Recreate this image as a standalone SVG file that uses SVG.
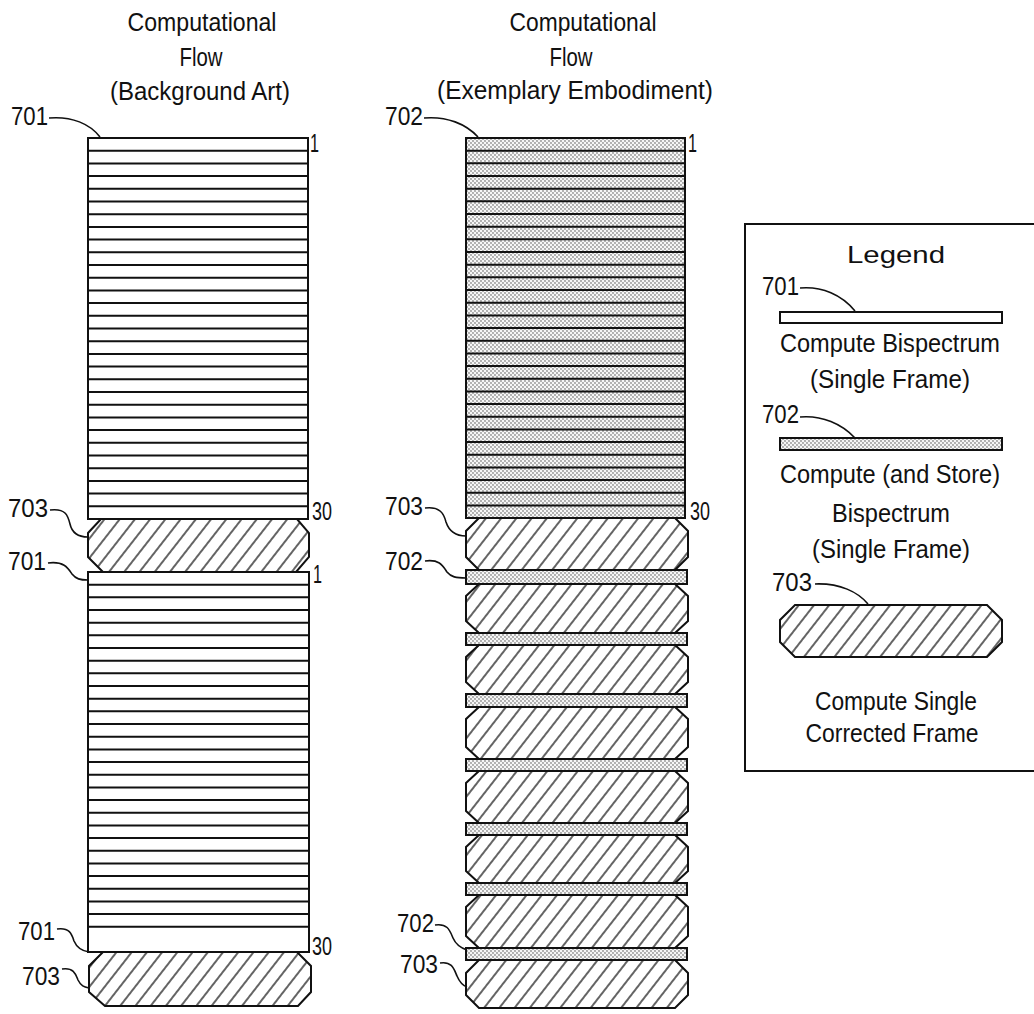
<svg xmlns="http://www.w3.org/2000/svg" width="1034" height="1014" viewBox="0 0 1034 1014">
<style>
text{font-family:"Liberation Sans Narrow","Liberation Sans",Arial,sans-serif;font-size:25px;fill:#111;}
.t{text-anchor:middle;}
.leg{font-family:"Liberation Sans",Arial,sans-serif;font-size:24px;text-anchor:middle;}
.o{fill:none;stroke:#111;stroke-width:2;}
.w{fill:#fff;stroke:#111;stroke-width:2;}
.st{fill:url(#stip);stroke:#111;stroke-width:2;}
.hx{fill:url(#hatch);stroke:#111;stroke-width:2;stroke-linejoin:miter;}
.ld{fill:none;stroke:#111;stroke-width:1.6;}
.rl{fill:none;stroke:#111;stroke-width:2;}
</style>
<defs>
<pattern id="stip" patternUnits="userSpaceOnUse" width="4" height="4">
<rect width="4" height="4" fill="#f6f6f6"/>
<circle cx="1" cy="1" r="0.65" fill="#333"/>
<circle cx="3" cy="3" r="0.65" fill="#333"/>
</pattern>
<pattern id="hatch" patternUnits="userSpaceOnUse" width="12" height="12" patternTransform="rotate(38)">
<rect width="12" height="12" fill="#fff"/>
<line x1="6" y1="-1" x2="6" y2="13" stroke="#111" stroke-width="1.3"/>
</pattern>
</defs>
<rect width="1034" height="1014" fill="#fff"/>

<g id="titles">
<text class="t" x="202" y="31" textLength="149" lengthAdjust="spacingAndGlyphs">Computational</text>
<text class="t" x="201" y="66" textLength="43" lengthAdjust="spacingAndGlyphs">Flow</text>
<text class="t" x="200" y="100" textLength="180" lengthAdjust="spacingAndGlyphs">(Background Art)</text>
<text class="t" x="583" y="31" textLength="147" lengthAdjust="spacingAndGlyphs">Computational</text>
<text class="t" x="571" y="66" textLength="43" lengthAdjust="spacingAndGlyphs">Flow</text>
<text class="t" x="575" y="99" textLength="276" lengthAdjust="spacingAndGlyphs">(Exemplary Embodiment)</text>
</g>

<g id="left-stack-1">
<rect class="w" x="88" y="138" width="220" height="381"/>
<path class="rl" d="M88,150.7h220m-220,12.7h220m-220,12.7h220m-220,12.7h220m-220,12.7h220m-220,12.7h220m-220,12.7h220m-220,12.7h220m-220,12.7h220m-220,12.7h220m-220,12.7h220m-220,12.7h220m-220,12.7h220m-220,12.7h220m-220,12.7h220m-220,12.7h220m-220,12.7h220m-220,12.7h220m-220,12.7h220m-220,12.7h220m-220,12.7h220m-220,12.7h220m-220,12.7h220m-220,12.7h220m-220,12.7h220m-220,12.7h220m-220,12.7h220m-220,12.7h220m-220,12.7h220"/>
</g>
<g id="left-703-a">
<polygon class="hx" points="101,519 297,519 309,533 309,557 296,572 103,572 88,557 88,533"/>
</g>
<g id="left-stack-2">
<rect class="w" x="88" y="572" width="221" height="380"/>
<path class="rl" d="M88,584.67h221m-221,12.67h221m-221,12.67h221m-221,12.67h221m-221,12.67h221m-221,12.67h221m-221,12.67h221m-221,12.67h221m-221,12.67h221m-221,12.67h221m-221,12.67h221m-221,12.67h221m-221,12.67h221m-221,12.67h221m-221,12.67h221m-221,12.67h221m-221,12.67h221m-221,12.67h221m-221,12.67h221m-221,12.67h221m-221,12.67h221m-221,12.67h221m-221,12.67h221m-221,12.67h221m-221,12.67h221m-221,12.67h221m-221,12.67h221m-221,12.67h221"/>
</g>
<g id="left-703-b">
<polygon class="hx" points="103,952 297,952 311,966 311,992 298,1006 105,1006 89,992 89,966"/>
</g>

<g id="right-stack">
<rect class="st" x="466" y="138" width="219" height="380"/>
<path class="rl" d="M466,150.67h219m-219,12.67h219m-219,12.67h219m-219,12.67h219m-219,12.67h219m-219,12.67h219m-219,12.67h219m-219,12.67h219m-219,12.67h219m-219,12.67h219m-219,12.67h219m-219,12.67h219m-219,12.67h219m-219,12.67h219m-219,12.67h219m-219,12.67h219m-219,12.67h219m-219,12.67h219m-219,12.67h219m-219,12.67h219m-219,12.67h219m-219,12.67h219m-219,12.67h219m-219,12.67h219m-219,12.67h219m-219,12.67h219m-219,12.67h219m-219,12.67h219m-219,12.67h219"/>
</g>
<g id="right-703-1"><polygon class="hx" points="479,518 675,518 688,531 688,557 675,570 479,570 466,557 466,531"/></g>
<g id="right-702-1"><rect class="st" x="466" y="570" width="221" height="14"/></g>
<g id="right-703-2"><polygon class="hx" points="479,584 675,584 688,596 688,621 675,633 479,633 466,621 466,596"/></g>
<g id="right-702-2"><rect class="st" x="466" y="633" width="221" height="12"/></g>
<g id="right-703-3"><polygon class="hx" points="479,645 675,645 688,657 688,682 675,694 479,694 466,682 466,657"/></g>
<g id="right-702-3"><rect class="st" x="466" y="694" width="221" height="13"/></g>
<g id="right-703-4"><polygon class="hx" points="479,707 675,707 688,719 688,747 675,759 479,759 466,747 466,719"/></g>
<g id="right-702-4"><rect class="st" x="466" y="759" width="221" height="12"/></g>
<g id="right-703-5"><polygon class="hx" points="479,771 675,771 688,783 688,811 675,823 479,823 466,811 466,783"/></g>
<g id="right-702-5"><rect class="st" x="466" y="823" width="221" height="12"/></g>
<g id="right-703-6"><polygon class="hx" points="479,835 675,835 688,847 688,871 675,883 479,883 466,871 466,847"/></g>
<g id="right-702-6"><rect class="st" x="466" y="883" width="221" height="12"/></g>
<g id="right-703-7"><polygon class="hx" points="479,895 675,895 688,907 688,936 675,948 479,948 466,936 466,907"/></g>
<g id="right-702-7"><rect class="st" x="466" y="948" width="221" height="12"/></g>
<g id="right-703-8"><polygon class="hx" points="479,960 675,960 688,973 688,995 675,1008 479,1008 466,995 466,973"/></g>

<g id="row-numbers">
<text x="310" y="152" textLength="9" lengthAdjust="spacingAndGlyphs">1</text>
<text x="312" y="520" textLength="20" lengthAdjust="spacingAndGlyphs">30</text>
<text x="313" y="583" textLength="9" lengthAdjust="spacingAndGlyphs">1</text>
<text x="312" y="955" textLength="20" lengthAdjust="spacingAndGlyphs">30</text>
<text x="688" y="152" textLength="9" lengthAdjust="spacingAndGlyphs">1</text>
<text x="690" y="520" textLength="20" lengthAdjust="spacingAndGlyphs">30</text>
</g>

<g id="labels">
<text x="11" y="125" textLength="37" lengthAdjust="spacingAndGlyphs">701</text>
<text x="385" y="125" textLength="38" lengthAdjust="spacingAndGlyphs">702</text>
<text x="8" y="517" textLength="40" lengthAdjust="spacingAndGlyphs">703</text>
<text x="8" y="570" textLength="38" lengthAdjust="spacingAndGlyphs">701</text>
<text x="385" y="515" textLength="38" lengthAdjust="spacingAndGlyphs">703</text>
<text x="385" y="570" textLength="38" lengthAdjust="spacingAndGlyphs">702</text>
<text x="18" y="940" textLength="37" lengthAdjust="spacingAndGlyphs">701</text>
<text x="22" y="985" textLength="38" lengthAdjust="spacingAndGlyphs">703</text>
<text x="397" y="932" textLength="37" lengthAdjust="spacingAndGlyphs">702</text>
<text x="400" y="973" textLength="38" lengthAdjust="spacingAndGlyphs">703</text>
</g>

<g id="connectors">
<path class="ld" d="M49,118 C72,116 90,124 100,137"/>
<path class="ld" d="M424,118 C447,116 466,124 478,137"/>
<path class="ld" d="M50,510 C66,508 68,516 70,524 C72,533 78,537 88,537"/>
<path class="ld" d="M48,563 C64,561 68,568 72,574 C76,579 80,580 88,580"/>
<path class="ld" d="M425,508 C440,506 444,514 446,522 C449,531 456,536 466,536"/>
<path class="ld" d="M425,561 C440,559 443,566 447,572 C451,577 456,578 466,578"/>
<path class="ld" d="M57,929 C70,927 72,935 74,941 C77,948 82,951 89,952"/>
<path class="ld" d="M62,969 C74,967 76,975 78,980 C81,986 84,987 89,988"/>
<path class="ld" d="M435,925 C448,923 450,931 453,938 C456,945 461,948 467,950"/>
<path class="ld" d="M440,963 C452,961 454,969 457,976 C460,983 464,986 467,987"/>
</g>

<g id="legend">
<path class="o" d="M1034,224 H745 V771 H1034"/>
<text class="leg" x="896" y="263" textLength="98" lengthAdjust="spacingAndGlyphs">Legend</text>
<g id="legend-701">
<text x="762" y="295" textLength="37" lengthAdjust="spacingAndGlyphs">701</text>
<path class="ld" d="M800,288 C822,286 842,295 855,311"/>
<rect class="w" x="780" y="312" width="222" height="11"/>
<text class="t" x="890" y="352" textLength="220" lengthAdjust="spacingAndGlyphs">Compute Bispectrum</text>
<text class="t" x="890" y="388" textLength="160" lengthAdjust="spacingAndGlyphs">(Single Frame)</text>
</g>
<g id="legend-702">
<text x="762" y="423" textLength="37" lengthAdjust="spacingAndGlyphs">702</text>
<path class="ld" d="M800,417 C822,415 842,424 855,438"/>
<rect class="st" x="780" y="438" width="222" height="12"/>
<text class="t" x="890" y="483" textLength="220" lengthAdjust="spacingAndGlyphs">Compute (and Store)</text>
<text class="t" x="891" y="522" textLength="118" lengthAdjust="spacingAndGlyphs">Bispectrum</text>
<text class="t" x="891" y="558" textLength="158" lengthAdjust="spacingAndGlyphs">(Single Frame)</text>
</g>
<g id="legend-703">
<text x="772" y="591" textLength="40" lengthAdjust="spacingAndGlyphs">703</text>
<path class="ld" d="M815,584 C840,583 858,592 868,604"/>
<polygon class="hx" points="795,605 987,605 1002,620 1002,642 987,657 795,657 780,642 780,620"/>
<text class="t" x="896" y="710" textLength="162" lengthAdjust="spacingAndGlyphs">Compute Single</text>
<text class="t" x="892" y="742" textLength="173" lengthAdjust="spacingAndGlyphs">Corrected Frame</text>
</g>
</g>
</svg>
